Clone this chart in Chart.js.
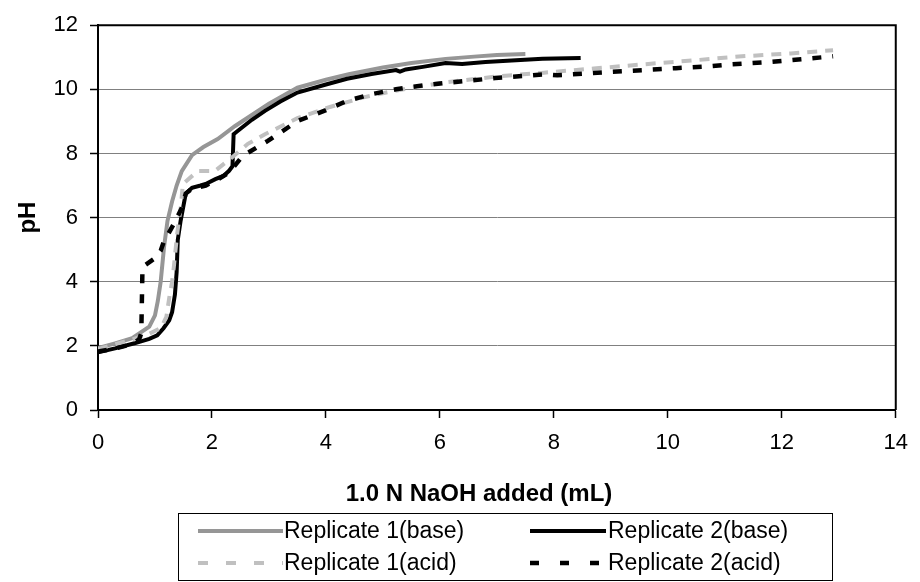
<!DOCTYPE html>
<html>
<head>
<meta charset="utf-8">
<script src="https://cdn.jsdelivr.net/npm/chart.js@4/dist/chart.umd.min.js"></script>
<style>
  html, body { margin: 0; padding: 0; background: #fff; }
  #wrap { width: 920px; height: 582px; position: relative; }
</style>
</head>
<body>
<div id="wrap"><canvas id="c" width="920" height="582"></canvas></div>
<script>
// ---- Data ----
const seriesLabels = ["Replicate 1(base)", "Replicate 2(base)", "Replicate 1(acid)", "Replicate 2(acid)"];

const rep1BaseX = [0, 0.3, 0.6, 0.9, 1.0, 1.05, 1.1, 1.16, 1.22, 1.3, 1.38, 1.47, 1.65, 1.85, 2.1, 2.4, 2.7, 3.0, 3.5, 4.0, 4.4, 5.0, 5.5, 6.1, 6.6, 7.0, 7.5];
const rep1BaseY = [1.93, 2.08, 2.24, 2.6, 2.95, 3.4, 4.0, 5.1, 5.9, 6.5, 7.0, 7.45, 7.95, 8.2, 8.45, 8.85, 9.2, 9.55, 10.05, 10.3, 10.47, 10.68, 10.82, 10.95, 11.02, 11.07, 11.1];

const rep2BaseX = [0, 0.3, 0.64, 0.9, 1.04, 1.15, 1.25, 1.3, 1.35, 1.38, 1.4, 1.45, 1.54, 1.65, 1.8, 1.89, 2.06, 2.2, 2.3, 2.36, 2.38, 2.45, 2.7, 2.93, 3.2, 3.5, 4.0, 4.37, 4.8, 5.23, 5.3, 5.4, 5.7, 6.1, 6.39, 6.8, 7.26, 7.8, 8.47];
const rep2BaseY = [1.8, 1.92, 2.08, 2.22, 2.33, 2.55, 2.8, 3.05, 3.6, 4.3, 5.3, 5.9, 6.75, 6.93, 7.0, 7.05, 7.2, 7.3, 7.46, 7.6, 8.6, 8.7, 9.05, 9.33, 9.62, 9.9, 10.15, 10.33, 10.48, 10.6, 10.55, 10.62, 10.7, 10.82, 10.79, 10.85, 10.9, 10.95, 10.98];

const rep1AcidX = [0, 0.3, 0.6, 0.9, 1.1, 1.2, 1.25, 1.3, 1.33, 1.39, 1.45, 1.49, 1.75, 2.05, 2.34, 2.63, 2.93, 3.5, 4.07, 4.66, 5.06, 5.5, 6.1, 7.0, 7.83, 8.7, 9.57, 10.43, 11.3, 12.16, 12.9];
const rep1AcidY = [1.9, 2.05, 2.2, 2.38, 2.55, 2.9, 3.5, 4.0, 4.45, 5.5, 6.3, 7.05, 7.45, 7.45, 7.86, 8.3, 8.6, 9.1, 9.45, 9.75, 9.9, 10.05, 10.22, 10.4, 10.52, 10.65, 10.78, 10.9, 11.03, 11.12, 11.22];

const rep2AcidX = [0, 0.3, 0.6, 0.72, 0.76, 0.78, 0.81, 0.99, 1.1, 1.16, 1.2, 1.33, 1.47, 1.54, 1.65, 1.89, 2.06, 2.3, 2.51, 2.63, 2.98, 3.5, 4.0, 4.37, 4.8, 5.23, 5.6, 6.1, 6.97, 7.83, 8.06, 8.99, 9.27, 10.14, 10.73, 11.12, 11.76, 12.34, 12.9];
const rep2AcidY = [1.82, 1.92, 2.05, 2.2, 2.4, 4.4, 4.5, 4.72, 4.97, 5.28, 5.39, 5.8, 6.3, 6.75, 6.9, 7.0, 7.15, 7.4, 7.86, 8.02, 8.39, 9.01, 9.35, 9.64, 9.85, 10.0, 10.1, 10.2, 10.35, 10.47, 10.44, 10.54, 10.57, 10.66, 10.72, 10.78, 10.85, 10.94, 11.03];

const xAxisTitle = "1.0 N NaOH added (mL)";
const yAxisTitle = "pH";

function pts(xs, ys) { return xs.map((x, i) => ({ x: x, y: ys[i] })); }

const FONT = "'Liberation Sans', Arial, Helvetica, sans-serif";
Chart.defaults.font.family = FONT;
Chart.defaults.color = '#000';

const frame = {
  id: 'frame',
  afterDatasetsDraw(chart) {
    const ctx = chart.ctx, a = chart.chartArea;
    ctx.save();
    ctx.strokeStyle = '#000';
    ctx.lineWidth = 2;
    ctx.beginPath();
    ctx.moveTo(a.left, a.top);
    ctx.lineTo(a.right, a.top);
    ctx.lineTo(a.right, a.bottom);
    ctx.stroke();
    ctx.restore();
  },
  afterDraw(chart) {
    const ctx = chart.ctx;
    ctx.save();
    // x-axis title
    ctx.fillStyle = '#000';
    ctx.font = "bold 24px " + FONT;
    ctx.textAlign = 'center';
    ctx.textBaseline = 'middle';
    ctx.fillText(xAxisTitle, 479, 494);
    // legend box
    const bx = 178, by = 513, bw = 654, bh = 67;
    ctx.fillStyle = '#fff';
    ctx.fillRect(bx, by, bw, bh);
    ctx.strokeStyle = '#000';
    ctx.lineWidth = 1;
    ctx.strokeRect(bx + 0.5, by + 0.5, bw, bh);
    const cols = [{ l0: 198, l1: 283, t: 284 }, { l0: 530, l1: 606, t: 608 }];
    const rows = [531, 563];
    const dsList = chart.data.datasets;
    ctx.font = "23px " + FONT;
    ctx.textAlign = 'left';
    ctx.textBaseline = 'middle';
    dsList.forEach((ds, i) => {
      const c = cols[i % 2], r = rows[Math.floor(i / 2)];
      ctx.save();
      ctx.strokeStyle = ds.borderColor;
      ctx.lineWidth = ds.borderWidth;
      ctx.setLineDash(ds.borderDash ? [ds.borderDash[0], ds.borderDash[1] + 10] : []);
      ctx.beginPath();
      ctx.moveTo(c.l0, r);
      ctx.lineTo(c.l1, r);
      ctx.stroke();
      ctx.restore();
      ctx.fillStyle = '#000';
      ctx.fillText(ds.label, c.t, r + 1);
    });
    ctx.restore();
  }
};

new Chart(document.getElementById('c'), {
  type: 'scatter',
  data: {
    datasets: [
      { label: seriesLabels[0], data: pts(rep1BaseX, rep1BaseY), showLine: true, borderColor: '#969696', borderWidth: 4, pointRadius: 0, order: 4 },
      { label: seriesLabels[1], data: pts(rep2BaseX, rep2BaseY), showLine: true, borderColor: '#000000', borderWidth: 4, pointRadius: 0, order: 3 },
      { label: seriesLabels[2], data: pts(rep1AcidX, rep1AcidY), showLine: true, borderColor: '#c0c0c0', borderWidth: 4, borderDash: [10, 8], pointRadius: 0, order: 2 },
      { label: seriesLabels[3], data: pts(rep2AcidX, rep2AcidY), showLine: true, borderColor: '#000000', borderWidth: 4.5, borderDash: [9, 11], pointRadius: 0, order: 1 }
    ]
  },
  options: {
    responsive: false,
    animation: false,
    events: [],
    layout: { padding: { left: 0, right: 14, top: 24, bottom: 75 } },
    plugins: { legend: { display: false }, tooltip: { enabled: false } },
    scales: {
      x: {
        type: 'linear', min: 0, max: 14,
        ticks: { stepSize: 2, padding: 12, font: { size: 22 }, color: '#000', maxRotation: 0 },
        grid: { drawOnChartArea: false, drawTicks: true, tickLength: 8, tickColor: '#000', tickWidth: 1.5 },
        border: { display: true, color: '#000', width: 2 },
        title: { display: false },
        afterFit(s) { s.height = 97; }
      },
      y: {
        type: 'linear', min: 0, max: 12,
        ticks: { stepSize: 2, padding: 12, font: { size: 22 }, color: '#000' },
        grid: { color: '#808080', lineWidth: 1, drawTicks: true, tickLength: 8, tickColor: '#000', tickWidth: 1.5 },
        border: { display: true, color: '#000', width: 2 },
        title: { display: true, text: yAxisTitle, font: { size: 24, weight: 'bold' }, color: '#000', padding: { top: 14, bottom: 0 } },
        afterFit(s) { s.width = 98; }
      }
    }
  },
  plugins: [frame]
});
</script>
</body>
</html>
